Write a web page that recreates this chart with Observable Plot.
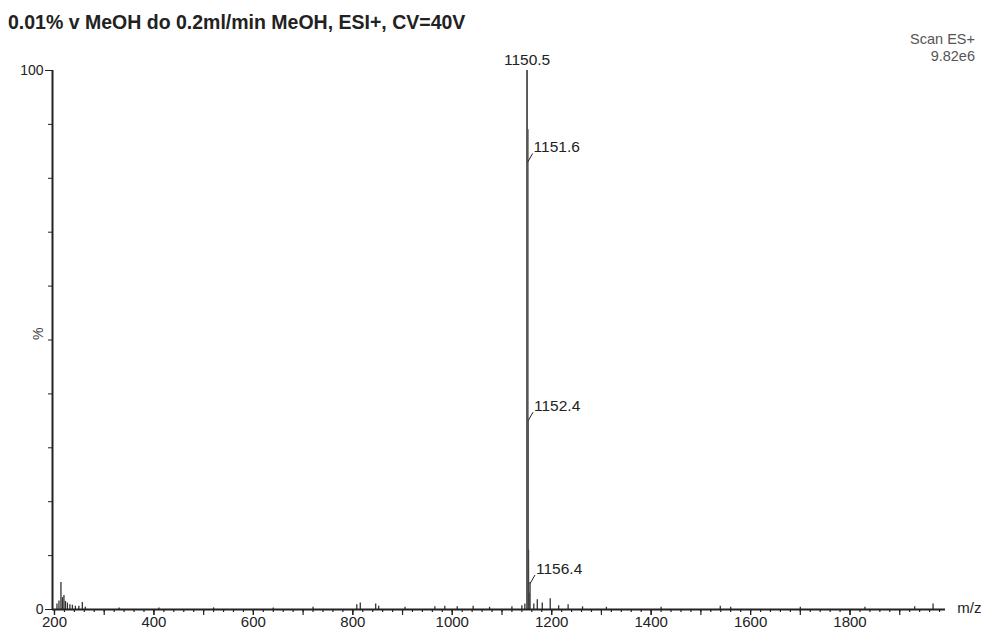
<!DOCTYPE html>
<html>
<head>
<meta charset="utf-8">
<script src="https://cdn.jsdelivr.net/npm/d3@7"></script>
<script src="https://cdn.jsdelivr.net/npm/@observablehq/plot@0.6"></script>
<style>
  html, body { margin: 0; padding: 0; background: #fff; }
  body { width: 988px; height: 637px; position: relative; font-family: "Liberation Sans", Arial, sans-serif; overflow: hidden; }
  #title { position: absolute; left: 8px; top: 11px; font-size: 19.5px; font-weight: bold; color: #222; white-space: nowrap; }
  #scan { position: absolute; right: 13px; top: 31px; font-size: 14.5px; color: #555; text-align: right; line-height: 17px; }
  #chart { position: absolute; left: 0; top: 0; }
</style>
</head>
<body>
<div id="chart"></div>
<div id="title">0.01% v MeOH do 0.2ml/min MeOH, ESI+, CV=40V</div>
<div id="scan">Scan ES+<br>9.82e6</div>
<script>
// m/z positions and relative intensities (%)
const mz        = [205, 209, 213, 216, 219, 222, 226, 231, 236, 242, 249, 256, 262,
                   330, 410, 520, 640, 720, 808, 815, 846, 852, 905, 965, 985, 1010, 1042, 1075, 1120, 1140, 1146,
                   1150.5, 1151.6, 1152.4, 1153.4, 1154.4, 1156.4,
                   1164, 1171, 1181, 1197, 1214, 1233, 1262, 1310, 1420, 1539, 1560, 1700, 1830, 1930, 1967];
const intensity = [1.0, 1.6, 5.0, 2.2, 2.6, 1.5, 1.2, 0.9, 0.8, 0.6, 0.6, 1.3, 0.4,
                   0.3, 0.3, 0.3, 0.3, 0.4, 0.9, 1.2, 1.0, 0.6, 0.4, 0.5, 0.6, 0.5, 0.6, 0.4, 0.5, 0.7, 1.0,
                   100, 89, 35, 11, 3, 5,
                   1.0, 1.8, 1.2, 2.0, 0.7, 0.9, 0.5, 0.4, 0.4, 0.6, 0.4, 0.4, 0.4, 0.5, 1.0];

// annotated peaks
const labelText = ["1150.5", "1151.6", "1152.4", "1156.4"];
const labelX    = [1150.5, 1151.6, 1152.4, 1156.4];
const labelY    = [100, 83, 35, 4.8];
const labelLead = [false, true, true, true];

// axis ticks
const xMajorTicks = d3.range(200, 2000, 100);
const xMinorTicks = d3.range(200, 2000, 20);
const xLabelTicks = [200, 400, 600, 800, 1000, 1200, 1400, 1600, 1800];
const yMinorTicks = d3.range(0, 101, 10);
const yLabelTicks = [0, 100];

const peaks = mz.map((m, i) => ({mz: m, intensity: intensity[i]}));
const labels = labelText.map((t, i) => ({text: t, x: labelX[i], y: labelY[i], lead: labelLead[i]}));
const leadLabels = labels.filter(d => d.lead);
const topLabels = labels.filter(d => !d.lead);

const ink = "#222";

const chart = Plot.plot({
  width: 988,
  height: 637,
  marginLeft: 52,
  marginRight: 43,
  marginTop: 70,
  marginBottom: 28,
  style: {fontFamily: "Liberation Sans, Arial, sans-serif", fontSize: "14px", color: ink, background: "white"},
  x: {domain: [196, 1992]},
  y: {domain: [0, 100]},
  marks: [
    Plot.axisX({ticks: xMinorTicks, tickSize: 3, tickFormat: () => "", stroke: ink, strokeWidth: 1.2}),
    Plot.axisX({ticks: xMajorTicks, tickSize: 6, tickFormat: () => "", stroke: ink, strokeWidth: 1.2}),
    Plot.axisX({ticks: xLabelTicks, tickSize: 6, tickPadding: 1, tickFormat: d => String(d), fill: ink, fontSize: 15, stroke: ink, strokeWidth: 1.2, label: null}),
    Plot.axisY({ticks: yMinorTicks, tickSize: 4, tickFormat: () => "", stroke: ink, label: null}),
    Plot.axisY({ticks: yLabelTicks, tickSize: 7, tickPadding: 2, tickFormat: d => String(d), fill: ink, fontSize: 14, stroke: ink, label: null}),
    Plot.ruleX(peaks, {x: "mz", y1: 0, y2: "intensity", stroke: "#333", strokeWidth: 1.3}),
    Plot.ruleX(peaks.filter(d => d.intensity > 50), {x: "mz", y1: 0, y2: "intensity", stroke: "#555", strokeWidth: 1.6}),
    Plot.ruleY([0], {stroke: ink, strokeWidth: 2}),
    Plot.ruleX([196], {stroke: ink, strokeWidth: 2}),
    Plot.text(topLabels, {x: "x", y: "y", text: "text", dy: -10, fontSize: 15.5, fill: ink}),
    Plot.link(leadLabels, {x1: "x", y1: "y", x2: d => d.x + 10, y2: d => d.y + 1.6, stroke: ink, strokeWidth: 1}),
    Plot.text(leadLabels, {x: d => d.x + 10, y: d => d.y + 1.6, text: "text", textAnchor: "start", dy: -6, dx: 1, fontSize: 15.5, fill: ink}),
    Plot.text(["m/z"], {frameAnchor: "bottom-right", dx: 36, dy: 3, fontSize: 15, fill: ink}),
    Plot.text(["%"], {frameAnchor: "left", dx: -14, rotate: -90, fontSize: 14, fill: "#444"})
  ]
});
document.getElementById("chart").appendChild(chart);
</script>
</body>
</html>
